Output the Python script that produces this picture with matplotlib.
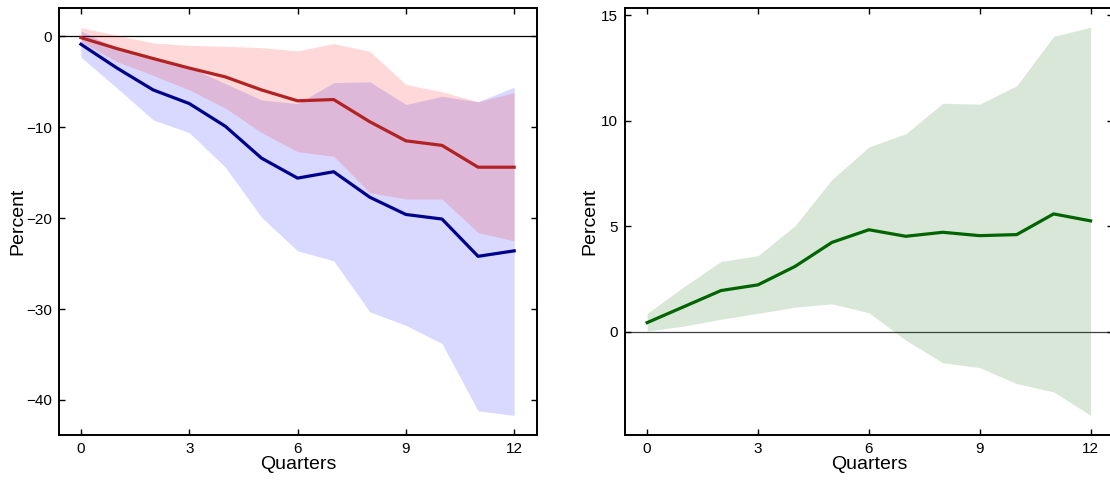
import matplotlib
matplotlib.use("Agg")
import matplotlib.pyplot as plt
import numpy as np

plt.rcParams['font.family'] = ['Liberation Sans', 'DejaVu Sans']

quarters = list(range(13))
xticks = [0, 3, 6, 9, 12]

# Left panel: two impulse responses with bands
red_line = [-0.15, -1.36, -2.45, -3.5, -4.47, -5.9, -7.1, -6.96, -9.4, -11.5, -12.0, -14.4, -14.4]
red_upper = [0.95, 0.1, -0.73, -1.0, -1.1, -1.25, -1.6, -0.8, -1.65, -5.3, -6.1, -7.2, -6.2]
red_lower = [-0.6, -2.8, -4.3, -5.9, -7.9, -10.6, -12.7, -13.2, -17.2, -17.9, -17.9, -21.6, -22.5]

blue_line = [-0.88, -3.5, -5.9, -7.4, -9.9, -13.4, -15.6, -14.9, -17.7, -19.6, -20.1, -24.2, -23.6]
blue_upper = [0.6, -1.35, -2.35, -3.4, -5.2, -7.0, -7.4, -5.1, -5.0, -7.5, -6.6, -7.2, -5.6]
blue_lower = [-2.3, -5.7, -9.2, -10.6, -14.4, -19.9, -23.6, -24.7, -30.3, -31.8, -33.8, -41.2, -41.7]

left_yticks = [-40, -30, -20, -10, 0]

# Right panel
green_line = [0.43, 1.19, 1.95, 2.22, 3.09, 4.23, 4.83, 4.52, 4.71, 4.55, 4.6, 5.58, 5.25]
green_upper = [0.87, 2.14, 3.33, 3.6, 5.02, 7.21, 8.75, 9.38, 10.82, 10.78, 11.65, 13.99, 14.42]
green_lower = [0.03, 0.27, 0.59, 0.87, 1.16, 1.32, 0.9, -0.4, -1.47, -1.7, -2.46, -2.85, -3.96]

right_yticks = [0, 5, 10, 15]

fig = plt.figure(figsize=(11.1, 4.8), dpi=100)
ax1 = fig.add_axes([0.0534, 0.0938, 0.430, 0.889])
ax2 = fig.add_axes([0.563, 0.0938, 0.4395, 0.889])

def style(ax, ypad):
    ax.tick_params(direction='in', top=True, right=True, length=4, width=1,
                   labelsize=11, pad=5)
    for s in ax.spines.values():
        s.set_linewidth(1.4)
    ax.set_xticks(xticks)
    ax.set_xlabel('Quarters', fontsize=14, labelpad=0)
    ax.set_ylabel('Percent', fontsize=14, labelpad=ypad)

ax1.axhline(0, color='black', lw=0.9, zorder=1)
ax1.fill_between(quarters, blue_lower, blue_upper, color='blue', alpha=0.15, lw=0, zorder=2)
ax1.fill_between(quarters, red_lower, red_upper, color='red', alpha=0.15, lw=0, zorder=2)
ax1.plot(quarters, red_line, color='#B22222', lw=2.3, zorder=3)
ax1.plot(quarters, blue_line, color='#00008B', lw=2.3, zorder=3)
ax1.set_xlim(-0.6, 12.62)
ax1.set_ylim(-43.85, 3.08)
ax1.set_yticks(left_yticks)
style(ax1, 0)

ax2.axhline(0, color='black', lw=0.9, alpha=0.75, zorder=1)
ax2.fill_between(quarters, green_lower, green_upper, color='#006400', alpha=0.15, lw=0, zorder=2)
ax2.plot(quarters, green_line, color='#006400', lw=2.3, zorder=3)
ax2.set_xlim(-0.6, 12.6)
ax2.set_ylim(-4.89, 15.32)
ax2.set_yticks(right_yticks)
style(ax2, 2)

fig.savefig('out.png', dpi=100)
